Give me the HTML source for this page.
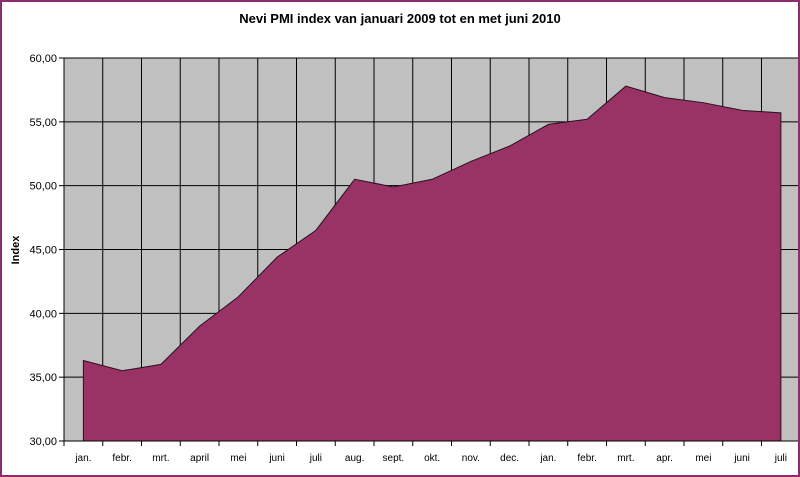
<!DOCTYPE html>
<html><head><meta charset="utf-8"><style>
body{margin:0;background:#fff;}
#wrap{position:relative;width:800px;height:477px;box-sizing:border-box;border:2px solid #8b2d6b;background:#fff;overflow:hidden;font-family:"Liberation Sans",Arial,sans-serif;}
</style></head><body>
<div id="wrap">
<svg id="chart" width="796" height="473" style="position:absolute;left:0;top:0"></svg>
</div>
<script>
const categories=["jan.","febr.","mrt.","april","mei","juni","juli","aug.","sept.","okt.","nov.","dec.","jan.","febr.","mrt.","apr.","mei","juni","juli"];
const values=[36.3,35.5,36.0,39.0,41.3,44.4,46.5,50.5,49.9,50.5,51.9,53.1,54.8,55.2,57.8,56.9,56.5,55.9,55.7];
const yTicks=[30,35,40,45,50,55,60];
const yTickLabels=["30,00","35,00","40,00","45,00","50,00","55,00","60,00"];
const NS="http://www.w3.org/2000/svg";
const svg=document.getElementById('chart');
// offset: wrap border 2px
const L=62,T=56,B=439,step=38.75;
const yMin=30,yMax=60;
function y(v){return B-(v-yMin)/(yMax-yMin)*(B-T);}
function xBand(i){return L+i*step;}
function xMid(i){return L+(i+0.5)*step;}
function mk(tag,attrs,name){const e=document.createElementNS(NS,tag);for(const k in attrs)e.setAttribute(k,attrs[k]);


svg.appendChild(e);return e;}
mk('text',{x:398,y:21,'text-anchor':'middle','font-size':13,'font-weight':'bold',fill:'#000'},'chart-title').textContent="Nevi PMI index van januari 2009 tot en met juni 2010";
mk('rect',{x:L,y:T,width:800,height:B-T,fill:'#c0c0c0'},'plot-area');
yTicks.forEach((t,i)=>{
 mk('line',{x1:L,x2:800,y1:y(t),y2:y(t),stroke:'#000','stroke-width':1},'y-gridline');
 mk('line',{x1:L-5,x2:L,y1:y(t),y2:y(t),stroke:'#000'},'y-tick');
 mk('text',{x:L-7,y:y(t)+4,'text-anchor':'end','font-size':11,fill:'#000'},'y-tick-label').textContent=yTickLabels[i];
});
categories.forEach((c,i)=>{
 if(i>0) mk('line',{x1:xBand(i),x2:xBand(i),y1:T,y2:B,stroke:'#000'},'x-gridline');
 mk('line',{x1:xBand(i),x2:xBand(i),y1:B,y2:B+5,stroke:'#000'},'x-tick');
 mk('text',{x:xMid(i),y:B+20,'text-anchor':'middle','font-size':10,fill:'#000'},'x-tick-label').textContent=c;
});
let d="M"+xMid(0)+","+B;
values.forEach((v,i)=>{d+=" L"+xMid(i)+","+y(v);});
d+=" L"+xMid(values.length-1)+","+B+" Z";
mk('path',{d:d,fill:'#993366',stroke:'#2a1020','stroke-width':1},'pmi-area');
mk('line',{x1:L,x2:L,y1:T,y2:B,stroke:'#000'},'y-axis');
mk('line',{x1:L,x2:800,y1:B,y2:B,stroke:'#000'},'x-axis');
mk('text',{x:17,y:248,'text-anchor':'middle','font-size':11,'font-weight':'bold',fill:'#000',transform:'rotate(-90 17 248)'},'y-axis-title').textContent="Index";
</script>
</body></html>
